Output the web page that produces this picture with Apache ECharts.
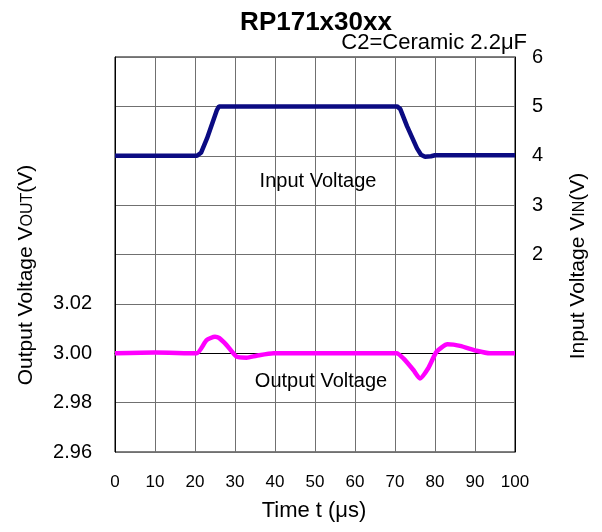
<!DOCTYPE html>
<html><head><meta charset="utf-8">
<script src="https://cdn.jsdelivr.net/npm/echarts@6/dist/echarts.min.js"></script>
<style>html,body{margin:0;padding:0;background:#fff}#c{width:602px;height:532px}</style>
</head><body><div id="c"></div>
<script>
// Time axis ticks (µs)
const timeTicks = [0,10,20,30,40,50,60,70,80,90,100];
// Input voltage VIN (V) vs time t (µs)
const inputT = [0, 20.5, 21.5, 23, 25.5, 26, 70.5, 71.3, 73, 75.5, 76.5, 77.5, 79, 80, 100];
const inputV = [4.0, 4.0, 4.06, 4.35, 4.93, 5.0, 5.0, 4.95, 4.6, 4.15, 4.02, 3.98, 3.99, 4.01, 4.01];
// Output voltage VOUT (V) vs time t (µs)
const outputT = [0, 10, 20.4, 22.9, 25, 26, 27.9, 30.4, 32.9, 35.4, 39.6, 70.4, 72.1, 74.6, 76.25, 78.3, 80.4, 83.1, 86.25, 90.4, 93.75, 100];
const outputV = [3.0, 3.0003, 3.0, 3.0053, 3.0067, 3.0062, 3.0033, 2.9986, 2.9982, 2.999, 3.0, 3.0, 2.9979, 2.9932, 2.9898, 2.9939, 3.0006, 3.0036, 3.003, 3.001, 3.0, 3.0];

const FONT = 'Liberation Sans, Arial, sans-serif';
const inputData = inputT.map((t,i)=>[t,inputV[i]]);
const outputData = outputT.map((t,i)=>[t,outputV[i]]);

const chart = echarts.init(document.getElementById('c'), null, {renderer:'canvas'});
chart.setOption({
  animation:false,
  backgroundColor:'#fff',
  textStyle:{fontFamily:FONT},
  title:[
    {text:'RP171x30xx', left:311, top:5, textAlign:'center',
     textStyle:{fontFamily:FONT, fontSize:26, fontWeight:'bold', color:'#000'}},
  ],
  grid:{left:115, right:87, top:57, bottom:80, show:true, borderColor:'#000', borderWidth:1, containLabel:false},
  xAxis:{type:'value', min:0, max:100, interval:10,
    axisLine:{show:true, lineStyle:{color:'#000'}}, axisTick:{show:false},
    axisLabel:{fontSize:17, color:'#000', margin:22, fontFamily:FONT},
    splitLine:{show:true, lineStyle:{color:'#707070', width:1}}},
  yAxis:[
    {type:'value', min:2.96, max:3.12, interval:0.02, position:'left',
     axisLine:{show:true, lineStyle:{color:'#000'}}, axisTick:{show:false},
     axisLabel:{fontSize:20, color:'#000', margin:23, fontFamily:FONT,
       formatter:v=> v <= 3.021 ? v.toFixed(2) : ''},
     splitLine:{show:true, lineStyle:{color:'#707070', width:1}}},
    {type:'value', min:-2, max:6, interval:1, position:'right',
     axisLine:{show:true, lineStyle:{color:'#000'}}, axisTick:{show:false},
     axisLabel:{fontSize:20, color:'#000', margin:17, fontFamily:FONT,
       formatter:v=> v >= 2 ? String(v) : ''},
     splitLine:{show:false}}
  ],
  series:[
    {name:'Input Voltage', type:'line', yAxisIndex:1, data:inputData, showSymbol:false,
     lineStyle:{color:'#0b0b82', width:4.5}, z:3},
    {name:'Output Voltage', type:'line', yAxisIndex:0, data:outputData, showSymbol:false, smooth:0.2,
     lineStyle:{color:'#ff00ff', width:4.5}, z:3}
  ],
  graphic:[
    {type:'text', x:527, y:43, style:{text:'C2=Ceramic 2.2μF', font:'22px '+FONT, fill:'#000', textAlign:'right', textVerticalAlign:'middle'}},
    {type:'text', x:314, y:511, style:{text:'Time t (μs)', font:'22px '+FONT, fill:'#000', textAlign:'center', textVerticalAlign:'middle'}},
    {type:'text', x:318, y:181, z:10, style:{text:'Input Voltage', font:'20px '+FONT, fill:'#000', textAlign:'center', textVerticalAlign:'middle'}},
    {type:'text', x:321, y:381, z:10, style:{text:'Output Voltage', font:'20px '+FONT, fill:'#000', textAlign:'center', textVerticalAlign:'middle'}},
    {type:'text', x:26, y:275, rotation:Math.PI/2,
     style:{rich:{a:{font:'21px '+FONT, fill:'#000'}, s:{font:'16px '+FONT, fill:'#000', padding:[4,0,0,0]}},
       text:'{a|Output Voltage V}{s|OUT}{a|(V)}', textAlign:'center', textVerticalAlign:'middle'}},
    {type:'text', x:578, y:266, rotation:Math.PI/2,
     style:{rich:{a:{font:'21px '+FONT, fill:'#000'}, s:{font:'16px '+FONT, fill:'#000', padding:[4,0,0,0]}},
       text:'{a|Input Voltage V}{s|IN}{a|(V)}', textAlign:'center', textVerticalAlign:'middle'}}
  ]
});
</script></body></html>
